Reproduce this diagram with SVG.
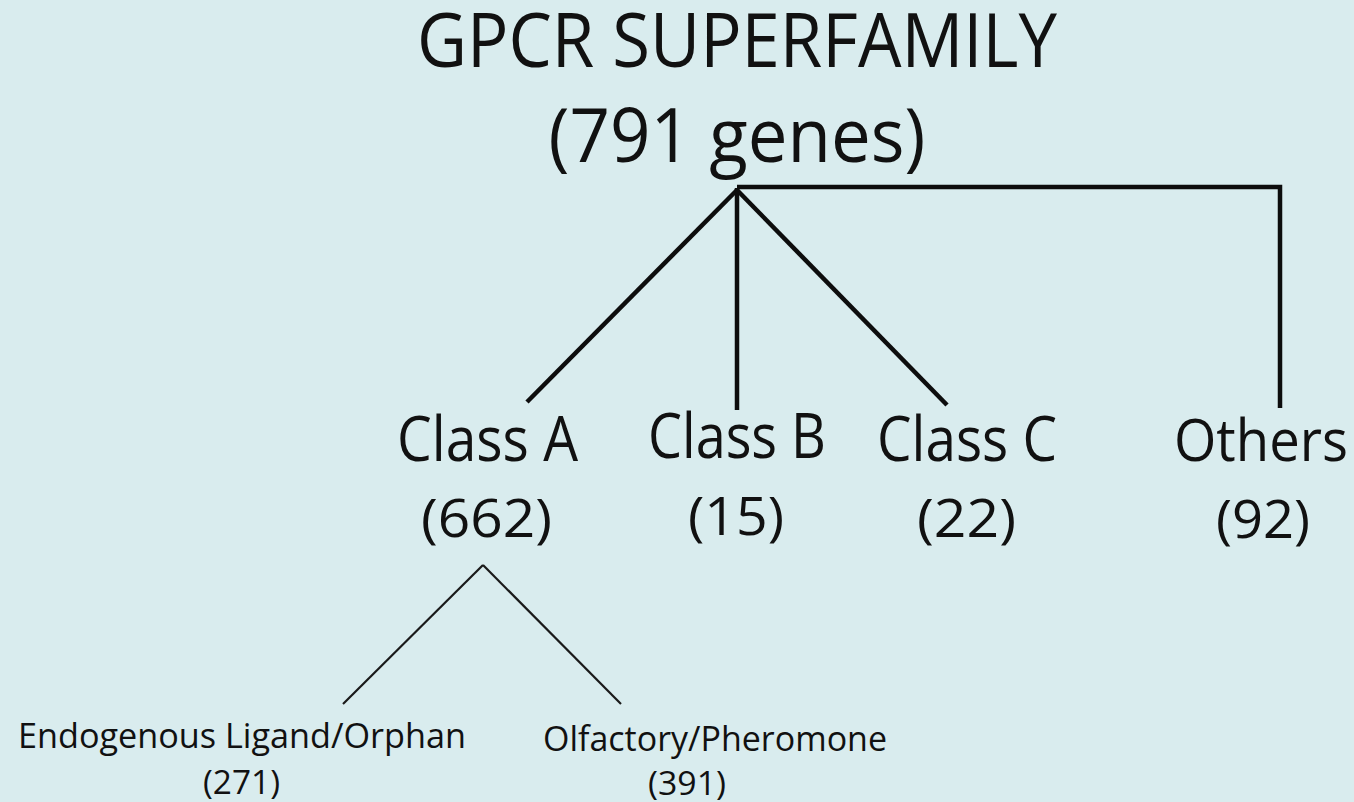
<svg xmlns="http://www.w3.org/2000/svg" width="1354" height="802" viewBox="0 0 1354 802">
  <style>
    text { font-family: "Open Sans", "Liberation Sans", sans-serif; fill: #111; text-anchor: middle; }
    .title { font-size: 75px; }
    .cls { font-size: 62px; }
    .cls-edge { font-size: 58px; }
    .num { font-size: 53px; }
    .sub { font-size: 35px; }
    .subnum { font-size: 32px; }
    .main { stroke: #0d0d0d; stroke-width: 4.5; fill: none; stroke-linecap: butt; stroke-linejoin: miter; }
    .minor { stroke: #1a1a1a; stroke-width: 2.2; fill: none; }
  </style>
  <rect width="1354" height="802" fill="#d9ecee"/>

  <g id="connectors">
    <polyline class="main" points="737,187 1280,187 1280,408"/>
    <line class="main" x1="737" y1="190" x2="527" y2="402"/>
    <line class="main" x1="737" y1="188" x2="737" y2="410"/>
    <line class="main" x1="737" y1="190" x2="947" y2="405"/>
    <line class="minor" x1="483" y1="565" x2="343" y2="704"/>
    <line class="minor" x1="483" y1="565" x2="621" y2="704"/>
  </g>

  <g id="node-superfamily">
    <text class="title" x="737" y="67" textLength="640" lengthAdjust="spacingAndGlyphs">GPCR SUPERFAMILY</text>
    <text class="title" x="737" y="162" textLength="377" lengthAdjust="spacingAndGlyphs">(791 genes)</text>
  </g>

  <g id="node-class-a">
    <text class="cls" x="487.5" y="461" textLength="181" lengthAdjust="spacingAndGlyphs">Class A</text>
    <text class="num" x="486.5" y="537" textLength="131" lengthAdjust="spacingAndGlyphs">(662)</text>
  </g>

  <g id="node-class-b">
    <text class="cls" x="737" y="458" textLength="178" lengthAdjust="spacingAndGlyphs">Class B</text>
    <text class="num" x="736" y="535" textLength="96" lengthAdjust="spacingAndGlyphs">(15)</text>
  </g>

  <g id="node-class-c">
    <text class="cls" x="967" y="461" textLength="180" lengthAdjust="spacingAndGlyphs">Class C</text>
    <text class="num" x="966.5" y="537" textLength="99" lengthAdjust="spacingAndGlyphs">(22)</text>
  </g>

  <g id="node-others">
    <text class="cls-edge" x="1261" y="461" textLength="174" lengthAdjust="spacingAndGlyphs">Others</text>
    <text class="num" x="1263" y="538" textLength="94" lengthAdjust="spacingAndGlyphs">(92)</text>
  </g>

  <g id="node-endogenous">
    <text class="sub" x="242" y="748" textLength="448" lengthAdjust="spacingAndGlyphs">Endogenous Ligand/Orphan</text>
    <text class="subnum" x="241.5" y="794" textLength="77" lengthAdjust="spacingAndGlyphs">(271)</text>
  </g>

  <g id="node-olfactory">
    <text class="sub" x="715" y="751" textLength="344" lengthAdjust="spacingAndGlyphs">Olfactory/Pheromone</text>
    <text class="subnum" x="687" y="795" textLength="78" lengthAdjust="spacingAndGlyphs">(391)</text>
  </g>
</svg>
